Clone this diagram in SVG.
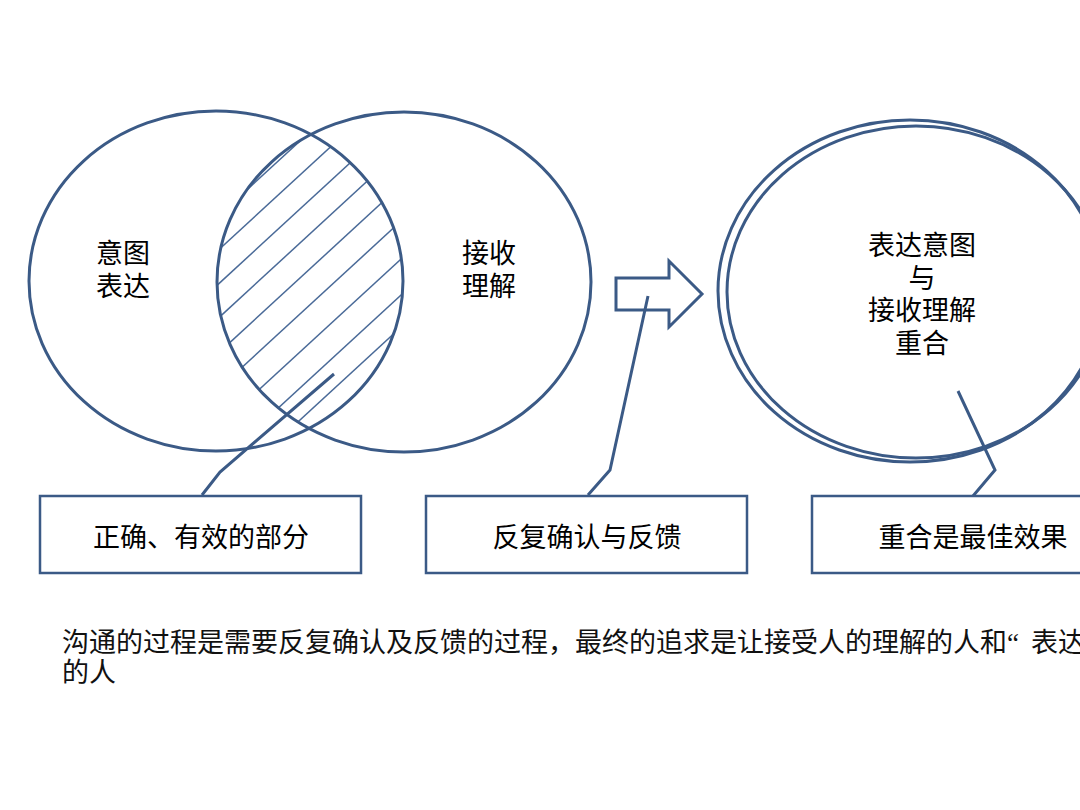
<svg xmlns="http://www.w3.org/2000/svg" width="1080" height="810" viewBox="0 0 1080 810">
<style>
.sh{fill:none;stroke:#3B5A86;stroke-width:3}
.ln{fill:none;stroke:#3B5A86;stroke-width:3;stroke-linejoin:miter}
.ht{stroke:#4A6A98;stroke-width:1.5}
.bx{fill:#fff;stroke:#3B5A86;stroke-width:2.5}
.t{font-family:"Liberation Sans","Noto Sans CJK SC",sans-serif;font-size:27px;fill:#000;text-anchor:middle}
.s{font-family:"Liberation Serif","Noto Sans CJK SC",serif;font-size:27px;fill:#111}
</style>
<defs>
<clipPath id="cA"><ellipse cx="216" cy="281" rx="187" ry="170"/></clipPath>
<clipPath id="cB"><ellipse cx="404" cy="282" rx="187" ry="170"/></clipPath>
</defs>
<rect width="1080" height="810" fill="#fff"/>
<g id="hatch" clip-path="url(#cA)">
<g clip-path="url(#cB)">
<g class="ht">
<line x1="150" y1="279" x2="450" y2="3"/>
<line x1="150" y1="313" x2="450" y2="37"/>
<line x1="150" y1="347" x2="450" y2="71"/>
<line x1="150" y1="381" x2="450" y2="105"/>
<line x1="150" y1="416" x2="450" y2="140"/>
<line x1="150" y1="452" x2="450" y2="176"/>
<line x1="150" y1="490" x2="450" y2="214"/>
<line x1="150" y1="526" x2="450" y2="250"/>
<line x1="150" y1="558" x2="450" y2="282"/>
</g>
</g>
</g>
<g id="node-intent">
<ellipse class="sh" cx="216" cy="281" rx="187" ry="170"/>
<text class="t" x="123" y="263">意图</text>
<text class="t" x="123" y="296">表达</text>
</g>
<g id="node-receive">
<ellipse class="sh" cx="404" cy="282" rx="187" ry="170"/>
<text class="t" x="489" y="263">接收</text>
<text class="t" x="489" y="296">理解</text>
</g>
<g id="node-arrow">
<polygon class="sh" points="616,278 669,278 669,261 702,294 669,327 669,310 616,310"/>
</g>
<g id="node-overlap">
<ellipse class="sh" cx="910" cy="291" rx="192" ry="171"/>
<ellipse class="sh" cx="916" cy="292" rx="189" ry="166"/>
<text class="t" x="922" y="255">表达意图</text>
<text class="t" x="922" y="288">与</text>
<text class="t" x="922" y="320">接收理解</text>
<text class="t" x="922" y="353">重合</text>
</g>
<g id="connectors">
<polyline class="ln" points="334,374 220,472 202,495"/>
<polyline class="ln" points="648,296 610,470 588,495"/>
<polyline class="ln" points="958,391 995,470 973,496"/>
</g>
<g id="box1">
<rect class="bx" x="40" y="496" width="321" height="77"/>
<text class="t" x="201" y="547">正确、有效的部分</text>
</g>
<g id="box2">
<rect class="bx" x="426" y="496" width="321" height="77"/>
<text class="t" x="587" y="547">反复确认与反馈</text>
</g>
<g id="box3">
<rect class="bx" x="812" y="496" width="321" height="77"/>
<text class="t" x="973" y="547">重合是最佳效果</text>
</g>
<g id="caption">
<text class="s" x="62" y="652">沟通的过程是需要反复确认及反馈的过程，最终的追求是让接受人的理解的人和“<tspan dx="12">表达</tspan></text>
<text class="s" x="62" y="682">的人</text>
</g>
</svg>
